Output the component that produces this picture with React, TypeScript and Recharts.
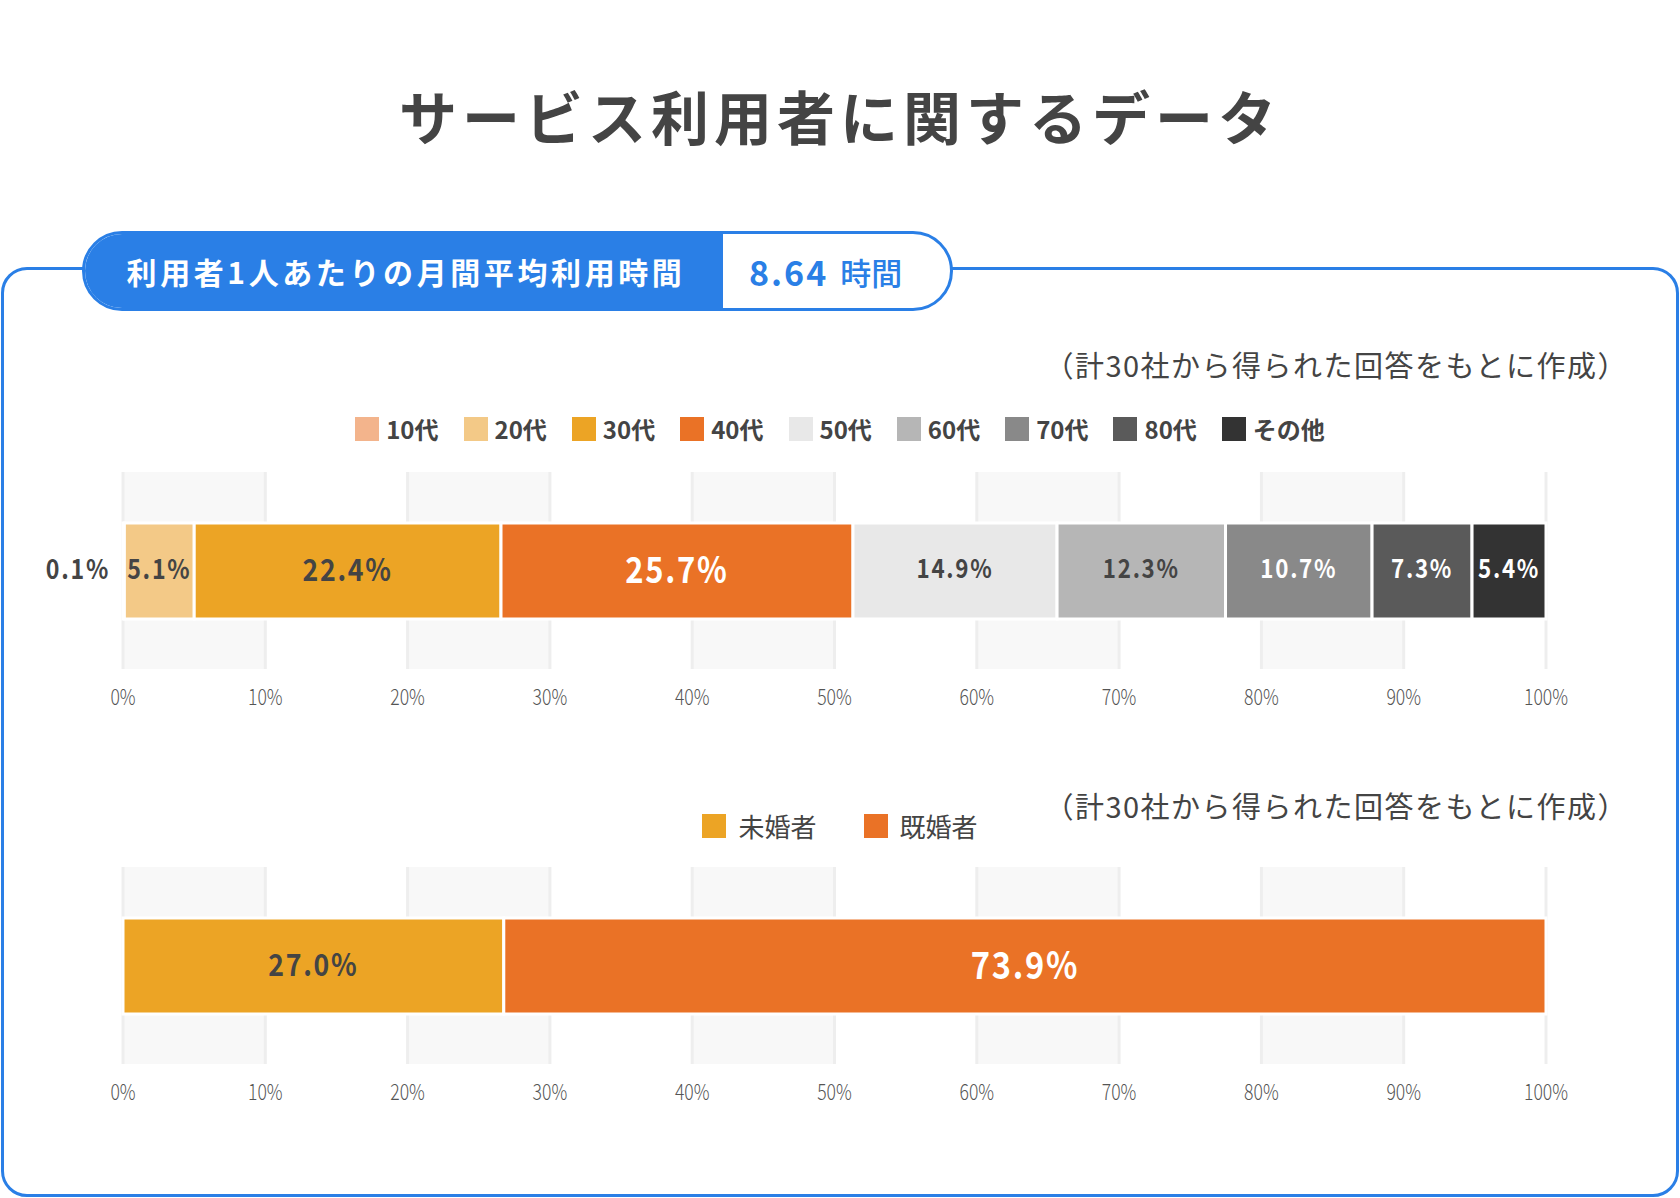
import React from 'react';
import { BarChart, Bar, XAxis, YAxis, CartesianGrid, LabelList } from 'recharts';

// 年代別の利用者割合（%）
const ageGroups = ['10代', '20代', '30代', '40代', '50代', '60代', '70代', '80代', 'その他'];
const ageShares = [0.1, 5.1, 22.4, 25.7, 14.9, 12.3, 10.7, 7.3, 5.4];

// 未婚・既婚の割合（%）
const maritalGroups = ['未婚者', '既婚者'];
const maritalShares = [27.0, 73.9];

const percentTicks = [0, 0.1, 0.2, 0.3, 0.4, 0.5, 0.6, 0.7, 0.8, 0.9, 1];
const tickLabels = ['0%', '10%', '20%', '30%', '40%', '50%', '60%', '70%', '80%', '90%', '100%'];

const averageHours = 8.64;
const noteText = '（計30社から得られた回答をもとに作成）';

const ageColors = ['#f3b48c', '#f3c987', '#eca425', '#ea7226', '#e8e8e8', '#b6b6b6', '#898989', '#5a5a5a', '#333333'];
const ageLabelColors = ['#444444', '#444444', '#444444', '#ffffff', '#444444', '#444444', '#ffffff', '#ffffff', '#ffffff'];
const ageLabelSizes = [27, 27, 31, 36, 26, 26, 26, 26, 26];

const maritalColors = ['#eca425', '#ea7226'];
const maritalLabelColors = ['#444444', '#ffffff'];
const maritalLabelSizes = [31, 38];

const BLUE = '#2a7fe6';
const FONT = '"Noto Sans CJK JP", "Noto Sans", sans-serif';

const ageRow: Record<string, string | number> = { name: 'age' };
ageGroups.forEach((g, i) => (ageRow[g] = ageShares[i]));
const maritalRow: Record<string, string | number> = { name: 'marital' };
maritalGroups.forEach((g, i) => (maritalRow[g] = maritalShares[i]));

const PercentTick = (props: any) => {
  const { x, y, payload } = props;
  const idx = percentTicks.indexOf(payload.value);
  return (
    <text
      x={0}
      y={0}
      transform={`translate(${x},${y + 27}) scale(0.8,1)`}
      textAnchor="middle"
      dominantBaseline="central"
      fill="#555"
      fontSize={22}
      fontWeight={300}
      fontFamily={FONT}
    >
      {idx >= 0 ? tickLabels[idx] : ''}
    </text>
  );
};

// ラベルは元の値（%）をそのまま表示、10代のみ棒の左外側
const makeLabel = (value: number, color: string, size: number, outside: boolean) => (props: any) => {
  const vb = props.viewBox ?? props;
  const { x, y, width, height } = vb;
  const tx = outside ? x - 13 : x + width / 2;
  const ty = y + height / 2 - 4;
  return (
    <text
      x={0}
      y={0}
      transform={`translate(${tx},${ty}) scale(0.86,1)`}
      textAnchor={outside ? 'end' : 'middle'}
      dominantBaseline="central"
      fill={color}
      fontSize={size}
      fontWeight={700}
      fontFamily={FONT}
      letterSpacing={2}
    >
      {value.toFixed(1) + '%'}
    </text>
  );
};

interface StackProps {
  row: Record<string, string | number>;
  groups: string[];
  values: number[];
  colors: string[];
  labelColors: string[];
  labelSizes: number[];
  top: number;
}

const StackedShare: React.FC<StackProps> = ({ row, groups, values, colors, labelColors, labelSizes, top }) => (
  <div style={{ position: 'absolute', left: 0, top, width: 1680, height: 260 }}>
    <BarChart
      width={1680}
      height={260}
      data={[row]}
      layout="vertical"
      stackOffset="expand"
      barSize={96}
      margin={{ top: 0, right: 134, bottom: 0, left: 123 }}
    >
      <CartesianGrid
        horizontal={false}
        vertical
        verticalFill={['#f8f8f8', '#ffffff']}
        stroke="#eeeeee"
        strokeWidth={3}
      />
      <XAxis
        type="number"
        domain={[0, 1]}
        ticks={percentTicks}
        height={63}
        axisLine={false}
        tickLine={false}
        tickSize={0}
        tickMargin={0}
        interval={0}
        tick={<PercentTick />}
      />
      <YAxis type="category" dataKey="name" hide />
      {groups.map((g, i) => (
        <Bar key={g} dataKey={g} stackId="s" fill={colors[i]} stroke="#ffffff" strokeWidth={3} isAnimationActive={false}>
          <LabelList
            dataKey={g}
            content={makeLabel(values[i], labelColors[i], labelSizes[i], values[i] < 1)}
          />
        </Bar>
      ))}
    </BarChart>
  </div>
);

const Legend: React.FC<{ items: string[]; colors: string[]; top: number; fontSize: number; weight: number; gap: number; textGap: number }> = ({
  items,
  colors,
  top,
  fontSize,
  weight,
  gap,
  textGap,
}) => (
  <div
    style={{
      position: 'absolute',
      left: 0,
      top: top - 18,
      width: 1680,
      height: 36,
      display: 'flex',
      justifyContent: 'center',
      alignItems: 'center',
      gap,
      fontFamily: FONT,
      fontSize,
      fontWeight: weight,
      color: '#444',
    }}
  >
    {items.map((it, i) => (
      <div key={it} style={{ display: 'flex', alignItems: 'center' }}>
        <span style={{ width: 24, height: 24, background: colors[i], marginRight: textGap, display: 'inline-block' }} />
        <span style={{ lineHeight: 1 }}>{it}</span>
      </div>
    ))}
  </div>
);

const Note: React.FC<{ top: number }> = ({ top }) => (
  <div
    style={{
      position: 'absolute',
      right: 52,
      top: top - 20,
      height: 40,
      lineHeight: '40px',
      fontFamily: FONT,
      fontSize: 29,
      letterSpacing: 1.5,
      color: '#444',
      whiteSpace: 'nowrap',
    }}
  >
    {noteText}
  </div>
);

export default function App() {
  return (
    <div style={{ position: 'absolute', left: 0, top: 0, width: 1680, height: 1198, background: '#fff', fontFamily: FONT, overflow: 'hidden' }}>
      <div
        style={{
          position: 'absolute',
          left: 0,
          top: 80,
          width: 1680,
          height: 70,
          lineHeight: '70px',
          textAlign: 'center',
          fontSize: 58,
          fontWeight: 700,
          letterSpacing: 5,
          color: '#444',
        }}
      >
        サービス利用者に関するデータ
      </div>

      <div
        style={{
          position: 'absolute',
          left: 1,
          top: 267,
          width: 1678,
          height: 930,
          boxSizing: 'border-box',
          border: `3px solid ${BLUE}`,
          borderRadius: 26,
        }}
      />

      <div
        style={{
          position: 'absolute',
          left: 82,
          top: 231,
          width: 871,
          height: 80,
          boxSizing: 'border-box',
          border: `3px solid ${BLUE}`,
          borderRadius: 40,
          background: '#fff',
          overflow: 'hidden',
          display: 'flex',
        }}
      >
        <div
          style={{
            width: 638,
            background: BLUE,
            color: '#fff',
            display: 'flex',
            alignItems: 'center',
            justifyContent: 'center',
            fontSize: 30,
            fontWeight: 700,
            letterSpacing: 3.6,
            paddingLeft: 4,
            boxSizing: 'border-box',
          }}
        >
          利用者1人あたりの月間平均利用時間
        </div>
        <div
          style={{
            flex: 1,
            display: 'flex',
            alignItems: 'center',
            paddingLeft: 26,
            color: BLUE,
          }}
        >
          <span style={{ fontSize: 34, fontWeight: 700, letterSpacing: 2 }}>{averageHours.toFixed(2)}</span>
          <span style={{ fontSize: 31, fontWeight: 500, marginLeft: 12 }}>時間</span>
        </div>
      </div>

      <Note top={364} />
      <Legend items={ageGroups} colors={ageColors} top={429} fontSize={24} weight={700} gap={25} textGap={7} />
      <StackedShare
        row={ageRow}
        groups={ageGroups}
        values={ageShares}
        colors={ageColors}
        labelColors={ageLabelColors}
        labelSizes={ageLabelSizes}
        top={472}
      />

      <Note top={805} />
      <Legend items={maritalGroups} colors={maritalColors} top={826} fontSize={26} weight={400} gap={47} textGap={12} />
      <StackedShare
        row={maritalRow}
        groups={maritalGroups}
        values={maritalShares}
        colors={maritalColors}
        labelColors={maritalLabelColors}
        labelSizes={maritalLabelSizes}
        top={867}
      />
    </div>
  );
}
